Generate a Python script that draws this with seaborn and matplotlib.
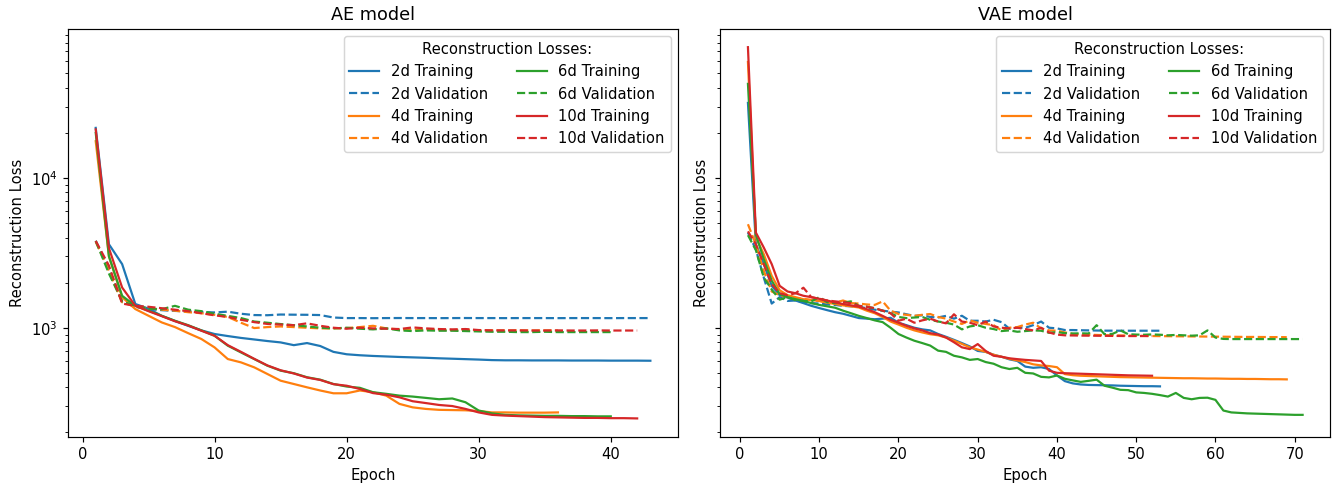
import numpy as np
import pandas as pd
import matplotlib
matplotlib.use("Agg")
import matplotlib.pyplot as plt
import seaborn as sns

dims = ["2d", "4d", "6d", "10d"]
colors = ["#1f77b4", "#ff7f0e", "#2ca02c", "#d62728"]

# ---------------- AE model ----------------
ae_2d_train = [21600, 3610, 2660, 1440, 1340, 1200, 1110, 1030, 960, 908, 880, 855, 835, 815, 798,
               765, 790, 755, 690, 665, 655, 648, 643, 638, 634, 630, 625, 621, 617, 613, 608,
               606, 606, 605, 605, 605, 604, 604, 604, 603, 603, 603, 602]
ae_2d_val = [3800, 2500, 1500, 1380, 1330, 1310, 1295, 1285, 1275, 1265, 1280, 1240, 1215, 1212, 1225,
             1222, 1220, 1215, 1170, 1160, 1160, 1158, 1160, 1161, 1160, 1160, 1159, 1160, 1161, 1160,
             1160, 1159, 1160, 1160, 1160, 1159, 1160, 1160, 1160, 1159, 1160, 1160, 1160]
ae_4d_train = [17600, 3000, 1600, 1332, 1202, 1085, 1010, 920, 841, 739, 618, 587, 544, 491, 443,
               421, 400, 381, 365, 365, 381, 371, 352, 310, 294, 287, 283, 282, 281, 278, 272,
               272, 271, 271, 271, 272]
ae_4d_val = [3750, 2400, 1480, 1380, 1350, 1320, 1300, 1270, 1250, 1220, 1180, 1080, 995, 1010, 1020,
             1010, 1000, 990, 990, 995, 1010, 1030, 990, 975, 970, 975, 970, 965, 970, 960, 960,
             958, 960, 958, 960, 958]
ae_6d_train = [20000, 3000, 1634, 1400, 1298, 1202, 1113, 1040, 960, 884, 759, 684, 618, 558, 517,
               497, 467, 450, 421, 405, 397, 371, 362, 352, 347, 340, 333, 337, 318, 280, 268,
               262, 260, 259, 258, 258, 257, 257, 256, 256]
ae_6d_val = [3800, 2300, 1500, 1400, 1340, 1330, 1400, 1320, 1290, 1240, 1200, 1160, 1100, 1080, 1058,
             1040, 1020, 1000, 990, 1000, 985, 975, 990, 960, 950, 960, 955, 955, 950, 945, 940,
             940, 935, 935, 940, 935, 935, 935, 935, 935]
ae_10d_train = [21100, 3400, 1856, 1400, 1290, 1195, 1105, 1035, 955, 884, 765, 690, 620, 560, 520,
                495, 465, 448, 420, 410, 390, 366, 357, 343, 323, 314, 305, 300, 287, 272, 262,
                259, 257, 255, 253, 252, 251, 250, 250, 249, 249, 248]
ae_10d_val = [3800, 2600, 1450, 1400, 1380, 1350, 1320, 1290, 1250, 1210, 1180, 1130, 1090, 1060, 1050,
              1040, 1070, 1030, 1000, 985, 1000, 990, 985, 980, 1005, 990, 980, 975, 980, 965, 960,
              960, 960, 958, 958, 960, 958, 958, 960, 958, 958, 958]

# ---------------- VAE model ----------------
vae_2d_train = [31700, 3610, 2660, 1905, 1650, 1590, 1520, 1460, 1400, 1353, 1310, 1270, 1240, 1200, 1160,
                1150, 1140, 1150, 1165, 1080, 1040, 1000, 975, 960, 908, 870, 830, 790, 750, 700,
                690, 660, 640, 615, 600, 550, 540, 545, 530, 480, 440, 425, 418, 415, 414, 413,
                412, 410, 409, 408, 407, 407, 406]
vae_2d_val = [4320, 3330, 2165, 1450, 1600, 1510, 1520, 1480, 1460, 1450, 1430, 1420, 1400, 1390, 1380,
              1350, 1320, 1300, 1280, 1265, 1230, 1200, 1210, 1180, 1172, 1200, 1150, 1202, 1113, 1113,
              1100, 1130, 1090, 985, 1000, 1000, 1040, 1100, 1000, 990, 965, 965, 962, 960, 958,
              956, 956, 955, 955, 955, 955, 955, 955]
vae_4d_train = [59500, 4000, 3100, 2220, 1780, 1650, 1600, 1550, 1530, 1510, 1470, 1440, 1410, 1390, 1365,
                1300, 1250, 1180, 1100, 1050, 1000, 960, 930, 905, 890, 860, 820, 780, 740, 715,
                690, 660, 640, 620, 605, 590, 570, 560, 555, 545, 490, 482, 478, 476, 474, 472,
                470, 468, 467, 466, 465, 464, 463, 462, 461, 460, 460, 459, 458, 458, 457, 456,
                456, 455, 455, 454, 453, 453, 452]
vae_4d_val = [4910, 3600, 2400, 1745, 1650, 1600, 1570, 1560, 1530, 1510, 1480, 1470, 1520, 1460, 1450,
              1430, 1420, 1500, 1300, 1235, 1220, 1200, 1220, 1235, 1180, 1150, 1100, 1060, 1120, 1080,
              1060, 1040, 960, 1000, 1010, 1050, 1080, 990, 960, 955, 930, 910, 900, 898, 895,
              892, 890, 888, 886, 884, 882, 880, 879, 878, 877, 876, 875, 874, 873, 872, 871,
              870, 869, 868, 868, 867, 866, 866, 865]
vae_6d_train = [42500, 4200, 2870, 2060, 1680, 1600, 1550, 1510, 1460, 1420, 1390, 1360, 1300, 1250, 1200,
                1160, 1120, 1090, 1000, 908, 860, 819, 790, 760, 703, 690, 650, 634, 610, 618,
                590, 575, 545, 530, 540, 500, 495, 470, 466, 480, 456, 445, 435, 442, 450, 410,
                398, 385, 383, 370, 367, 362, 355, 347, 367, 340, 333, 340, 341, 330, 280, 272,
                270, 268, 267, 266, 265, 264, 263, 262, 262]
vae_6d_val = [4150, 3300, 2165, 1800, 1540, 1600, 1530, 1510, 1500, 1600, 1480, 1460, 1470, 1500, 1400,
              1380, 1350, 1300, 1250, 1180, 1160, 1170, 1180, 1130, 1100, 1080, 1050, 975, 1020, 1040,
              1000, 980, 950, 960, 940, 950, 960, 955, 925, 935, 920, 915, 918, 915, 1040, 905,
              910, 960, 905, 900, 898, 902, 898, 890, 895, 890, 885, 890, 960, 860, 842, 840,
              840, 840, 840, 840, 840, 840, 840, 840, 840]
vae_10d_train = [74700, 4320, 3430, 2660, 1905, 1745, 1700, 1634, 1600, 1560, 1520, 1475, 1440, 1410, 1380,
                 1330, 1270, 1200, 1130, 1080, 1030, 990, 960, 920, 900, 860, 800, 740, 720, 778,
                 700, 650, 640, 625, 617, 610, 605, 600, 517, 500, 497, 495, 493, 491, 489, 487,
                 485, 483, 481, 480, 479, 478]
vae_10d_val = [4400, 3600, 2660, 1960, 1700, 1650, 1700, 1850, 1600, 1560, 1520, 1500, 1480, 1460, 1400,
               1380, 1350, 1300, 1250, 1113, 1150, 1080, 1120, 1150, 1100, 1070, 1230, 1100, 1080, 1040,
               1100, 1020, 1000, 990, 1000, 980, 960, 1000, 930, 900, 890, 888, 886, 885, 884, 883,
               882, 881, 880, 880, 880, 880]

ae_series = [(ae_2d_train, ae_2d_val), (ae_4d_train, ae_4d_val),
             (ae_6d_train, ae_6d_val), (ae_10d_train, ae_10d_val)]
vae_series = [(vae_2d_train, vae_2d_val), (vae_4d_train, vae_4d_val),
              (vae_6d_train, vae_6d_val), (vae_10d_train, vae_10d_val)]

DPI = 106
fig, axes = plt.subplots(1, 2, figsize=(1333 / DPI, 485 / DPI), dpi=DPI, sharey=True)
fig.subplots_adjust(left=0.051, right=0.998, bottom=0.099, top=0.941, wspace=0.069)

for ax, series, title in zip(axes, [ae_series, vae_series], ["AE model", "VAE model"]):
    for dim, color, (tr, va) in zip(dims, colors, series):
        ep_tr = np.arange(1, len(tr) + 1)
        ep_va = np.arange(1, len(va) + 1)
        sns.lineplot(x=ep_tr, y=tr, ax=ax, color=color, linestyle="-", label=f"{dim} Training")
        sns.lineplot(x=ep_va, y=va, ax=ax, color=color, linestyle="--", label=f"{dim} Validation")
    ax.set_yscale("log")
    ax.set_title(title)
    ax.set_xlabel("Epoch")
    ax.set_ylabel("Reconstruction Loss")
    ax.yaxis.label.set_visible(True)
    ax.legend(title="Reconstruction Losses:", ncol=2, loc="upper right")

fig.savefig("out.png", dpi=DPI)
